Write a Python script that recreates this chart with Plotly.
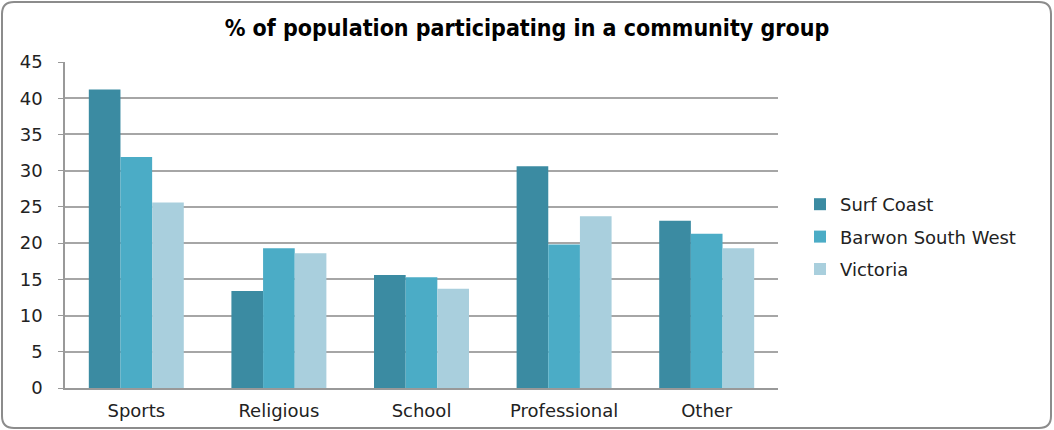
import plotly.graph_objects as go

categories = ["Sports", "Religious", "School", "Professional", "Other"]
surf_coast = [41.2, 13.4, 15.6, 30.6, 23.1]
barwon_sw = [31.9, 19.3, 15.3, 19.8, 21.3]
victoria = [25.6, 18.6, 13.7, 23.7, 19.3]
series_names = ["Surf Coast", "Barwon South West", "Victoria"]
colors = ["#3B8BA2", "#4BACC6", "#A9CFDD"]

fig = go.Figure()
for name, vals, c in zip(series_names, [surf_coast, barwon_sw, victoria], colors):
    fig.add_trace(go.Bar(x=categories, y=vals, name=name, legendgroup=name,
                         marker=dict(color=c, line=dict(width=0))))

W, H = 1054, 430
L, R, T, B = 65, 276, 62, 42
pw, ph = W - L - R, H - T - B

def px(x):
    return (x - L) / pw

def py(y):
    return (H - B - y) / ph

x0, x1, y0, y1 = px(2), px(1051), py(428), py(2)
rx, ry = 12 / pw, 12 / ph
path = (f"M {x0+rx},{y1} L {x1-rx},{y1} Q {x1},{y1} {x1},{y1-ry} "
        f"L {x1},{y0+ry} Q {x1},{y0} {x1-rx},{y0} L {x0+rx},{y0} "
        f"Q {x0},{y0} {x0},{y0+ry} L {x0},{y1-ry} Q {x0},{y1} {x0+rx},{y1} Z")

fig.update_layout(
    width=W, height=H,
    margin=dict(l=L, r=R, t=T, b=B, autoexpand=False),
    paper_bgcolor="white", plot_bgcolor="white",
    barmode="group", bargap=0.334, bargroupgap=0,
    title=dict(text="<b>% of population participating in a community group</b>",
               x=0.5, xanchor="center", y=1 - 28 / H, yanchor="middle",
               font=dict(family="DejaVu Sans Condensed, Liberation Sans Narrow, sans-serif", size=23, color="#000000")),
    font=dict(family="DejaVu Sans, Verdana, sans-serif", size=18, color="#222222"),
    legend=dict(x=px(800), y=py(237), xanchor="left", yanchor="middle",
                font=dict(size=18, color="#222222"), itemwidth=30,
                tracegroupgap=6, bgcolor="rgba(0,0,0,0)"),
    xaxis=dict(showline=True, linecolor="#999999", linewidth=1.5, ticks="",
               tickfont=dict(size=18), ticklabelstandoff=6, automargin=False),
    yaxis=dict(range=[0, 45], dtick=5, showgrid=True, gridcolor="#A6A6A6", gridwidth=1.5,
               showline=True, linecolor="#999999", linewidth=1.5, ticks="outside",
               ticklen=5, tickcolor="#999999", zeroline=False, tickfont=dict(size=18),
               ticklabelstandoff=12, automargin=False),
    shapes=[dict(type="path", path=path, xref="paper", yref="paper",
                 line=dict(color="#8C8C8C", width=2), fillcolor="rgba(0,0,0,0)")],
)

fig.write_html("out.html")
